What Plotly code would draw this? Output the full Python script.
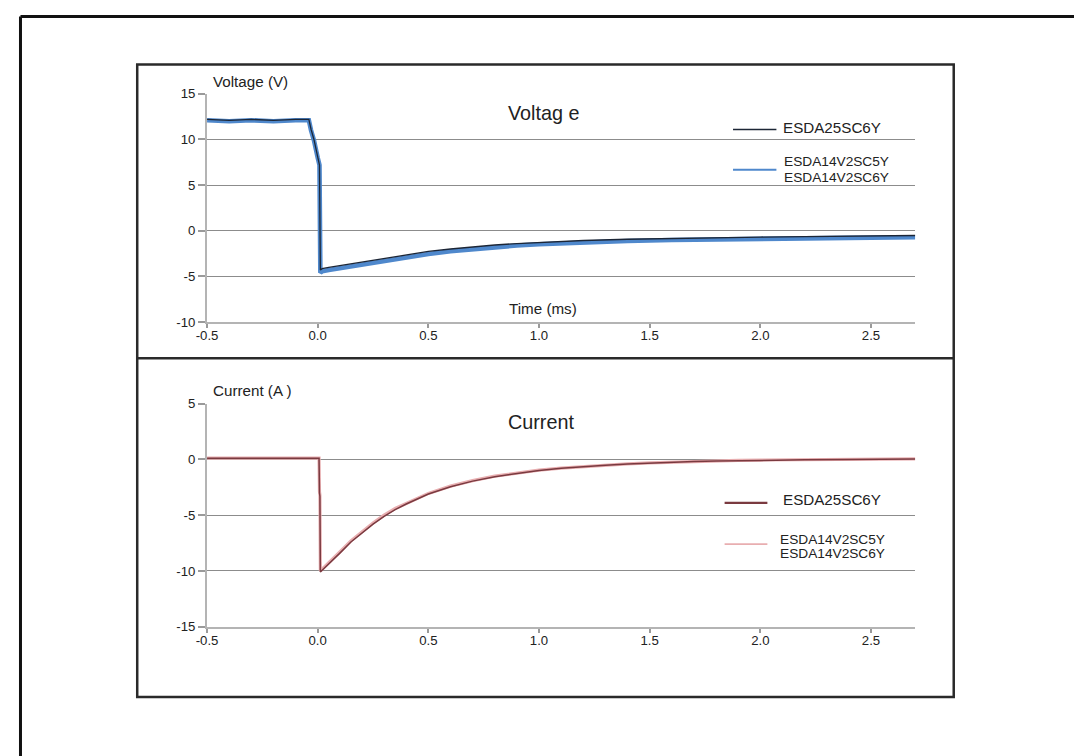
import plotly.graph_objects as go

# ---------------- data ----------------
x_tick_vals = [-0.5, 0.0, 0.5, 1.0, 1.5, 2.0, 2.5]
x_tick_text = ["-0.5", "0.0", "0.5", "1.0", "1.5", "2.0", "2.5"]
v_tick_vals = [-10, -5, 0, 5, 10, 15]
v_tick_text = ["-10", "-5", "0", "5", "10", "15"]
c_tick_vals = [-15, -10, -5, 0, 5]
c_tick_text = ["-15", "-10", "-5", "0", "5"]

series_a = "ESDA25SC6Y"
series_b_lines = ["ESDA14V2SC5Y", "ESDA14V2SC6Y"]

v_time = [-0.5, -0.4, -0.3, -0.2, -0.1, -0.04, -0.03, -0.017, 0.0, 0.008,
          0.012, 0.02, 0.05, 0.1, 0.15, 0.2, 0.3, 0.4, 0.5, 0.6,
          0.7, 0.8, 0.9, 1.0, 1.2, 1.4, 1.6, 1.8, 2.0, 2.2,
          2.4, 2.6, 2.7]
v_esda14 = [12.1, 12.0, 12.1, 12.0, 12.1, 12.1, 11.0, 9.9, 8.0, 7.2,
            -4.6, -4.45, -4.3, -4.1, -3.9, -3.7, -3.3, -2.9, -2.55, -2.25,
            -2.0, -1.8, -1.62, -1.48, -1.27, -1.12, -1.01, -0.93, -0.87, -0.82,
            -0.78, -0.74, -0.72]
v_esda25 = [12.2, 12.1, 12.2, 12.1, 12.2, 12.2, 11.1, 10.0, 8.1, 7.2,
            -4.3, -4.15, -4.0, -3.8, -3.6, -3.4, -3.0, -2.6, -2.27, -2.0,
            -1.76, -1.56, -1.4, -1.27, -1.07, -0.93, -0.83, -0.75, -0.69, -0.64,
            -0.59, -0.55, -0.52]

c_time = [-0.5, -0.3, -0.1, 0.0, 0.006, 0.008, 0.01, 0.012, 0.06, 0.1,
          0.15, 0.2, 0.25, 0.3, 0.35, 0.4, 0.5, 0.6, 0.7, 0.8,
          0.9, 1.0, 1.1, 1.2, 1.3, 1.4, 1.5, 1.6, 1.7, 1.8,
          1.9, 2.0, 2.2, 2.4, 2.6, 2.7]
c_esda25 = [0.1, 0.1, 0.1, 0.1, 0.1, -3.0, -3.3, -10.1, -9.2, -8.4,
            -7.4, -6.6, -5.8, -5.1, -4.5, -4.0, -3.1, -2.45, -1.95, -1.55,
            -1.25, -1.0, -0.8, -0.65, -0.52, -0.42, -0.33, -0.26, -0.2, -0.15,
            -0.11, -0.08, -0.04, -0.01, 0.02, 0.03]
c_esda14 = [0.12, 0.12, 0.12, 0.12, 0.12, -2.9, -3.2, -10.0, -9.1, -8.3,
            -7.3, -6.5, -5.7, -5.0, -4.4, -3.95, -3.05, -2.4, -1.9, -1.5,
            -1.2, -0.97, -0.78, -0.63, -0.5, -0.4, -0.31, -0.24, -0.18, -0.13,
            -0.09, -0.06, -0.02, 0.01, 0.03, 0.04]

# ---------------- styling / geometry ----------------
W, H = 1082, 756
# measured placement of the figure in the photographed page
OX, OY, SX, SY = 19.0, 14.4, 0.988, 0.981
FONT = "Liberation Sans, Arial, sans-serif"
TXT = "#222222"
C_V_DARK = "#1c2636"
C_V_BLUE = "#4f88cc"
C_C_DARK = "#7a3a40"
C_C_PINK = "#e8aeb0"


def px(x):
    return max((x - OX) / SX, 1.5) / W


def py(y):
    return 1 - max((y - OY) / SY, 1.5) / H


fig = go.Figure()

fig.add_trace(go.Scatter(x=v_time, y=v_esda14, mode="lines", name=" / ".join(series_b_lines),
                         line=dict(color=C_V_BLUE, width=4.6), xaxis="x", yaxis="y"))
fig.add_trace(go.Scatter(x=v_time, y=v_esda25, mode="lines", name=series_a,
                         line=dict(color=C_V_DARK, width=1.3), xaxis="x", yaxis="y"))
fig.add_trace(go.Scatter(x=c_time, y=c_esda14, mode="lines", name=" / ".join(series_b_lines),
                         line=dict(color=C_C_PINK, width=3.2), xaxis="x2", yaxis="y2"))
fig.add_trace(go.Scatter(x=c_time, y=c_esda25, mode="lines", name=series_a,
                         line=dict(color=C_C_DARK, width=1.5), xaxis="x2", yaxis="y2"))

xdom = [px(206.7), px(913.6)]
common_x = dict(range=[-0.5, 2.7], domain=xdom, tickvals=x_tick_vals, ticktext=x_tick_text,
                ticks="outside", ticklen=4, tickcolor="#9a9a9a", tickwidth=1.5,
                ticklabelstandoff=-4,
                showline=True, linecolor="#b4b4b4", linewidth=2.2, showgrid=False,
                zeroline=False, tickfont=dict(family=FONT, size=13.2, color=TXT),
                fixedrange=True)
common_y = dict(ticks="outside", ticklen=7, tickcolor="#9a9a9a", tickwidth=1.5,
                showline=True, linecolor="#b4b4b4", linewidth=2.2, showgrid=True,
                gridcolor="#8c8c8c", gridwidth=1.3, zeroline=False,
                tickfont=dict(family=FONT, size=13.2, color=TXT), fixedrange=True)

fig.update_layout(
    width=W, height=H, autosize=False,
    margin=dict(l=0, r=0, t=0, b=0),
    paper_bgcolor="white", plot_bgcolor="white",
    showlegend=False,
    font=dict(family=FONT, color=TXT),
    xaxis=dict(common_x, anchor="y"),
    yaxis=dict(common_y, range=[-10, 15], domain=[py(321.7), py(93.3)],
               tickvals=v_tick_vals, ticktext=v_tick_text, anchor="x"),
    xaxis2=dict(common_x, anchor="y2"),
    yaxis2=dict(common_y, range=[-15, 5], domain=[py(626.7), py(403.3)],
                tickvals=c_tick_vals, ticktext=c_tick_text, anchor="x2"),
)

shapes = []
# outer frame (top and left edges visible)
shapes.append(dict(type="line", xref="paper", yref="paper", x0=px(0), x1=1.0, y0=py(0), y1=py(0),
                   line=dict(color="#111111", width=3)))
shapes.append(dict(type="line", xref="paper", yref="paper", x0=px(0), x1=px(0), y0=py(0), y1=0,
                   line=dict(color="#111111", width=3)))
# inner box and divider
shapes.append(dict(type="rect", xref="paper", yref="paper", x0=px(137), x1=px(952), y0=py(697), y1=py(64),
                   line=dict(color="#2a2a2a", width=2.5)))
shapes.append(dict(type="line", xref="paper", yref="paper", x0=px(137), x1=px(952), y0=py(358), y1=py(358),
                   line=dict(color="#2a2a2a", width=2.5)))
# legend samples
shapes.append(dict(type="line", xref="paper", yref="paper", x0=px(731.7), x1=px(775), y0=py(129), y1=py(129),
                   line=dict(color=C_V_DARK, width=1.6)))
shapes.append(dict(type="line", xref="paper", yref="paper", x0=px(731.7), x1=px(775), y0=py(169.3), y1=py(169.3),
                   line=dict(color=C_V_BLUE, width=2)))
shapes.append(dict(type="line", xref="paper", yref="paper", x0=px(723.3), x1=px(766), y0=py(502.7), y1=py(502.7),
                   line=dict(color=C_C_DARK, width=2.4)))
shapes.append(dict(type="line", xref="paper", yref="paper", x0=px(723.3), x1=px(766), y0=py(544), y1=py(544),
                   line=dict(color=C_C_PINK, width=1.6)))
fig.update_layout(shapes=shapes)


def ann(text, x, y, size, anchor="left"):
    return dict(text=text, xref="paper", yref="paper", x=px(x), y=py(y), xanchor=anchor,
                yanchor="middle", showarrow=False, borderpad=0,
                font=dict(family=FONT, size=size, color=TXT))


annotations = [
    ann("Voltage (V)", 212, 80.7, 15.2),
    ann("Voltag e", 543.3, 112.7, 19.8, "center"),
    ann("Time (ms)", 541.7, 308.3, 15.2, "center"),
    ann(series_a, 781, 126.7, 15.2),
    ann(series_b_lines[0], 782, 161, 13.7),
    ann(series_b_lines[1], 782, 177.3, 13.7),
    ann("Current (A )", 212, 390.7, 15.2),
    ann("Current", 540, 421.7, 19.8, "center"),
    ann(series_a, 781, 499.3, 15.2),
    ann(series_b_lines[0], 777.5, 539.3, 13.7),
    ann(series_b_lines[1], 777.5, 553.3, 13.7),
]
fig.update_layout(annotations=annotations)

fig.write_html("out.html", config={"displayModeBar": False})
